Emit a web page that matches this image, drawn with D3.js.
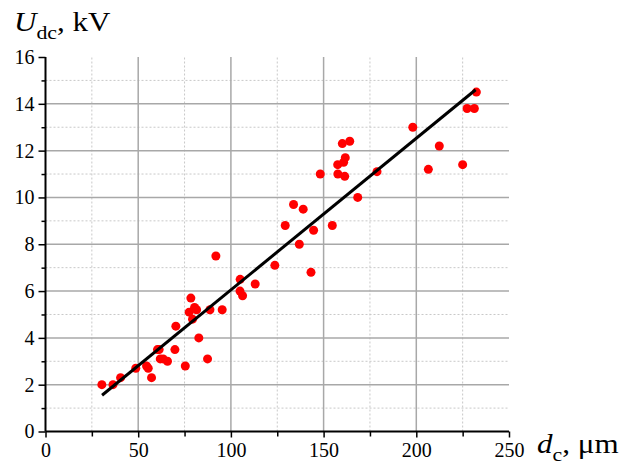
<!DOCTYPE html>
<html>
<head>
<meta charset="utf-8">
<script src="https://cdn.jsdelivr.net/npm/d3@7"></script>
<style>
  html, body { margin: 0; padding: 0; background: #fff; }
  svg { display: block; font-family: "Liberation Serif", "Times New Roman", serif; }
</style>
</head>
<body>
<svg id="chart" width="625" height="470"></svg>
<script>
// Measured gap diameter (µm) and DC breakdown voltage (kV)
const dcValues = [30.4, 36.4, 40.5, 48.7, 54.5, 55.4, 57.2, 60.4, 61.3, 61.9, 63.5, 65.8, 69.8, 70.3, 75.4,
  77.5, 78.4, 79.3, 80.4, 81.5, 82.7, 87.4, 88.7, 91.9, 95.3, 105.0, 104.9, 106.3, 113.1, 123.7,
  129.3, 133.8, 136.9, 139.0, 143.2, 144.6, 148.2, 154.7, 157.6, 157.7, 160.1, 160.8, 161.7, 161.4,
  164.1, 168.4, 178.8, 198.1, 206.5, 212.4, 225.0, 227.4, 231.3, 232.4];
const udcValues = [2.0, 2.0, 2.3, 2.7, 2.8, 2.7, 2.3, 3.5, 3.5, 3.1, 3.1, 3.0, 3.5, 4.5, 2.8,
  5.1, 5.7, 4.8, 5.3, 5.2, 4.0, 3.1, 5.2, 7.5, 5.2, 6.5, 6.0, 5.8, 6.3, 7.1,
  8.8, 9.7, 8.0, 9.5, 6.8, 8.6, 11.0, 8.8, 11.4, 11.0, 12.3, 11.5, 11.7, 10.9,
  12.4, 10.0, 11.1, 13.0, 11.2, 12.2, 11.4, 13.8, 13.8, 14.5];
// Linear trend line end points
const fitX = [30.5, 232.0];
const fitY = [1.55, 14.6];

const xMajorTicks = [0, 50, 100, 150, 200, 250];
const xMinorTicks = [25, 75, 125, 175, 225];
const yMajorTicks = [0, 2, 4, 6, 8, 10, 12, 14, 16];
const yMinorTicks = [1, 3, 5, 7, 9, 11, 13, 15];

const serif = "'Liberation Serif', 'Times New Roman', serif";
const svg = d3.select("#chart");
const x = d3.scaleLinear().domain([0, 250]).range([45.5, 509]);
const y = d3.scaleLinear().domain([0, 16]).range([431.5, 57]);

// grid
const grid = svg.append("g");
grid.selectAll("line.vmin").data(xMinorTicks).join("line")
  .attr("x1", d => x(d)).attr("x2", d => x(d)).attr("y1", y(0)).attr("y2", y(16))
  .attr("stroke", "#c8c8c8").attr("stroke-width", 1).attr("stroke-dasharray", "2,2");
grid.selectAll("line.hmin").data(yMinorTicks).join("line")
  .attr("x1", x(0)).attr("x2", x(250)).attr("y1", d => y(d)).attr("y2", d => y(d))
  .attr("stroke", "#c8c8c8").attr("stroke-width", 1).attr("stroke-dasharray", "2,2");
grid.selectAll("line.vmaj").data(xMajorTicks.filter(d => d > 0 && d < 250)).join("line")
  .attr("x1", d => x(d)).attr("x2", d => x(d)).attr("y1", y(0)).attr("y2", y(16))
  .attr("stroke", "#a8a8a8").attr("stroke-width", 1.5);
grid.selectAll("line.hmaj").data(yMajorTicks.filter(d => d > 0 && d < 16)).join("line")
  .attr("x1", x(0)).attr("x2", x(250)).attr("y1", d => y(d)).attr("y2", d => y(d))
  .attr("stroke", "#a8a8a8").attr("stroke-width", 1.5);

// axes
const xAxis = svg.append("g").attr("transform", `translate(0,${y(0)})`)
  .call(d3.axisBottom(x).tickValues(xMajorTicks).tickSize(6).tickPadding(5).tickFormat(d3.format("d")));
const xAxisMinor = svg.append("g").attr("transform", `translate(0,${y(0)})`)
  .call(d3.axisBottom(x).tickValues(xMinorTicks).tickSize(5).tickFormat(""));
const yAxis = svg.append("g").attr("transform", `translate(${x(0)},0)`)
  .call(d3.axisLeft(y).tickValues(yMajorTicks).tickSize(7).tickPadding(4).tickFormat(d3.format("d")));
const yAxisMinor = svg.append("g").attr("transform", `translate(${x(0)},0)`)
  .call(d3.axisLeft(y).tickValues(yMinorTicks).tickSize(4).tickFormat(""));

[xAxis, xAxisMinor, yAxis, yAxisMinor].forEach(g => {
  g.attr("font-family", serif).attr("font-size", 20);
  g.select(".domain").attr("stroke", "#000").attr("stroke-width", 2);
  g.selectAll(".tick line").attr("stroke", "#000").attr("stroke-width", 1.5);
  g.selectAll(".tick text").attr("fill", "#000").attr("font-family", serif)
    .style("font-family", serif).style("font-size", "20px");
});
xAxisMinor.select(".domain").remove();
yAxisMinor.select(".domain").remove();
// keep the axis lines flat (no outer ticks)
xAxis.select(".domain").attr("d", `M${x(0)},0H${x(250)}`);
yAxis.select(".domain").attr("d", `M0,${y(16)}V${y(0)}`);

// data points
svg.append("g").selectAll("circle").data(dcValues.map((d, i) => [d, udcValues[i]])).join("circle")
  .attr("cx", d => x(d[0])).attr("cy", d => y(d[1])).attr("r", 4.5).attr("fill", "#ff0000");

// trend line
svg.append("line")
  .attr("x1", x(fitX[0])).attr("y1", y(fitY[0])).attr("x2", x(fitX[1])).attr("y2", y(fitY[1]))
  .attr("stroke", "#000").attr("stroke-width", 3);

// axis titles (slightly widened serif lettering)
const yTitle = svg.append("text").attr("transform", "translate(14,31) scale(1.15,1)")
  .attr("fill", "#000").style("font-family", serif).style("font-size", "27px");
yTitle.append("tspan").style("font-style", "italic").text("U");
yTitle.append("tspan").attr("dy", 8).style("font-size", "19px").text("dc");
yTitle.append("tspan").attr("dy", -8).text(", kV");

const xTitle = svg.append("text").attr("transform", "translate(537,453) scale(1.15,1)")
  .attr("fill", "#000").style("font-family", serif).style("font-size", "27px");
xTitle.append("tspan").style("font-style", "italic").text("d");
xTitle.append("tspan").attr("dy", 8).style("font-size", "19px").text("c");
xTitle.append("tspan").attr("dy", -8).text(", μm");
</script>
</body>
</html>
